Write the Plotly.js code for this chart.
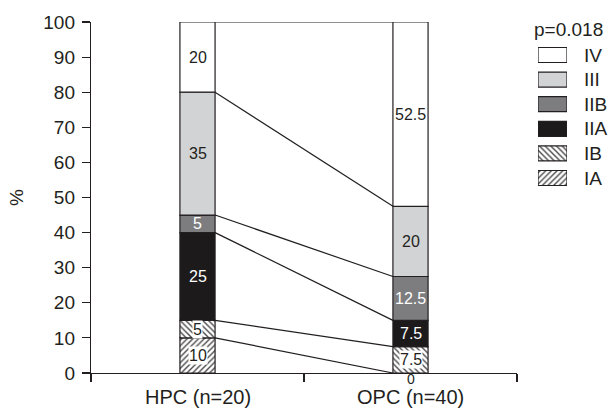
<!DOCTYPE html>
<html>
<head>
<meta charset="utf-8">
<script src="https://cdn.plot.ly/plotly-3.0.1.min.js"></script>
<style>html,body{margin:0;padding:0;background:#fff;}#chart{width:611px;height:410px;}</style>
</head>
<body>
<div id="chart"></div>
<script>
const groups = ["HPC (n=20)", "OPC (n=40)"];
const stages = ["IA", "IB", "IIA", "IIB", "III", "IV"];
const IA  = [10, 0];
const IB  = [5, 7.5];
const IIA = [25, 7.5];
const IIB = [5, 12.5];
const III = [35, 20];
const IV  = [20, 52.5];
const pValue = "p=0.018";

const series = [IA, IB, IIA, IIB, III, IV];
const fills = ["#ffffff", "#ffffff", "#1c1a1b", "#7d7d7f", "#d2d3d5", "#ffffff"];
const patterns = ["/", "\\", "", "", "", ""];
const textColors = ["#231f20", "#231f20", "#ffffff", "#ffffff", "#231f20", "#231f20"];
const textBg = ["#ffffff", "#ffffff", null, null, null, null];

const W = 611, H = 410, L = 91, T = 22, B = 37;
const plotW = W - L;
const mainW = 426;
const plotH = H - T - B;
const px2x = p => (p - L) / plotW;
const py2y = p => (H - B - p) / plotH;

const barW = 0.165;
const xs = groups.map((g, i) => i);
const FONT = "Liberation Sans, Arial, Helvetica, sans-serif";
const INK = "#231f20";
const patternStyle = shape => shape ? { shape: shape, fgcolor: "#4a4a4a", bgcolor: "#ffffff", size: 4, solidity: 0.35 } : undefined;

const traces = [];
const annotations = [];
const cum = groups.map(() => 0);

series.forEach((vals, s) => {
  traces.push({
    type: "bar",
    name: stages[s],
    x: xs,
    y: vals,
    base: cum.slice(),
    width: barW,
    xaxis: "x", yaxis: "y",
    marker: { color: fills[s], line: { color: INK, width: 1.2 }, pattern: patternStyle(patterns[s]) },
    showlegend: false,
    hoverinfo: "skip"
  });
  vals.forEach((v, i) => {
    const base = cum[i];
    cum[i] += v;
    if (v > 0) {
      annotations.push({
        x: xs[i], y: base + v / 2, xref: "x", yref: "y",
        text: String(v), showarrow: false,
        font: { family: FONT, size: 16, color: textColors[s] },
        bgcolor: textBg[s] || "rgba(0,0,0,0)", borderpad: 0
      });
    } else {
      annotations.push({
        x: xs[i], y: 0, xref: "x", yref: "y", yanchor: "top", yshift: 3,
        text: String(v), showarrow: false, borderpad: 0,
        font: { family: FONT, size: 14, color: INK }
      });
    }
  });
  // connecting line between the tops of this segment in both bars
  traces.push({
    type: "scatter", mode: "lines",
    x: [xs[0] + barW / 2, xs[1] - barW / 2],
    y: [cum[0], cum[1]],
    xaxis: "x", yaxis: "y",
    line: { color: INK, width: 1.2 },
    showlegend: false, hoverinfo: "skip"
  });
});

// category labels
groups.forEach((g, i) => {
  annotations.push({
    x: xs[i], y: py2y(397), xref: "x", yref: "paper", yanchor: "middle",
    text: g, showarrow: false, borderpad: 0,
    font: { family: FONT, size: 20, color: INK }
  });
});

// custom legend: one small horizontal bar per stage on hidden axes
stages.forEach((s, i) => {
  traces.push({
    type: "bar", orientation: "h",
    x: [1], y: [i], base: 0, width: 0.61,
    xaxis: "x2", yaxis: "y2",
    marker: { color: fills[i], line: { color: INK, width: 1.2 }, pattern: patternStyle(patterns[i]) },
    showlegend: false, hoverinfo: "skip"
  });
  annotations.push({
    x: px2x(582), y: i, xref: "paper", yref: "y2", xanchor: "left", yanchor: "middle",
    text: s, showarrow: false, font: { family: FONT, size: 19, color: INK }
  });
});
annotations.push({
  x: px2x(532), y: py2y(29), xref: "paper", yref: "paper", xanchor: "left", yanchor: "middle",
  text: pValue, showarrow: false, font: { family: FONT, size: 19, color: INK }
});

const axisCommon = { ticks: "outside", ticklen: 8, tickcolor: INK, tickwidth: 1.2,
  showline: true, linecolor: INK, linewidth: 1.2, showgrid: false, zeroline: false };

const layout = {
  width: W, height: H,
  margin: { l: L, r: 0, t: T, b: B },
  paper_bgcolor: "#ffffff", plot_bgcolor: "rgba(0,0,0,0)",
  barmode: "overlay",
  showlegend: false,
  font: { family: FONT, color: INK },
  xaxis: Object.assign({}, axisCommon, {
    domain: [0, mainW / plotW],
    range: [-0.5, 1.5], tickmode: "array", tickvals: [-0.5, 0.5, 1.5], ticktext: ["", "", ""]
  }),
  yaxis: Object.assign({}, axisCommon, {
    range: [0, 100], tickmode: "linear", tick0: 0, dtick: 10,
    ticklabelstandoff: 3,
    tickfont: { family: FONT, size: 19, color: INK },
    title: { text: "%", font: { family: FONT, size: 19, color: INK }, standoff: 14 }
  }),
  xaxis2: { domain: [px2x(538), px2x(567)], range: [0, 1], anchor: "y2", visible: false, fixedrange: true },
  yaxis2: { domain: [py2y(190.3), py2y(42.7)], range: [-0.5, 5.5], anchor: "x2", visible: false, fixedrange: true },
  annotations: annotations
};

Plotly.newPlot("chart", traces, layout, { displayModeBar: false, staticPlot: true });
</script>
</body>
</html>
